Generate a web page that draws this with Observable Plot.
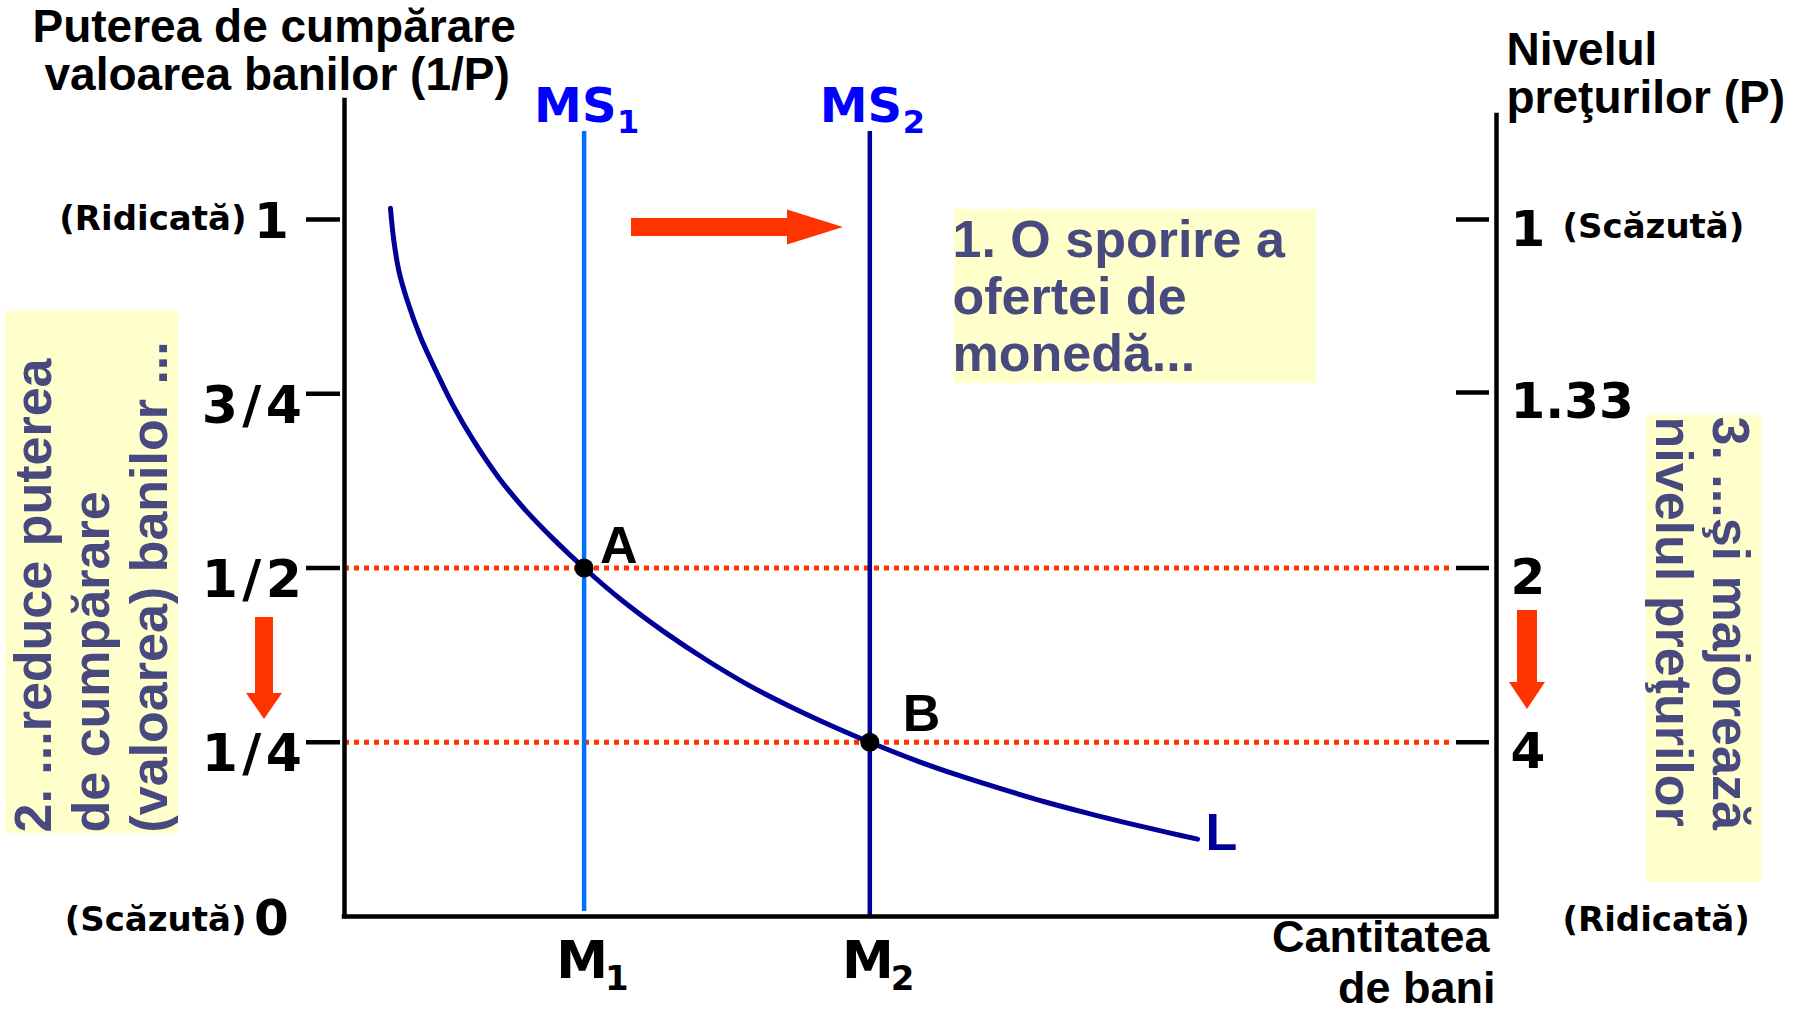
<!DOCTYPE html>
<html><head><meta charset="utf-8">
<script src="https://cdn.jsdelivr.net/npm/d3@7"></script>
<script src="https://cdn.jsdelivr.net/npm/@observablehq/plot@0.6"></script>
<style>html,body{margin:0;padding:0;background:#fff;} #chart svg{display:block}</style>
</head><body><div id="chart"></div>
<script>
// ---------- data ----------
// Money demand curve L: quantity of money (arbitrary units 0-100) vs value of money (1/P)
const moneyQuantity = [3.99, 4.28, 4.71, 5.44, 6.60, 8.05, 9.43, 11.19, 13.37, 15.71, 18.23, 20.8, 24.13, 27.78, 31.42, 35.07, 38.72, 42.36, 45.6, 49.74, 53.39, 57.03, 60.68, 64.32, 67.97, 71.61, 74.05];
const moneyValue    = [1.016, 0.970, 0.927, 0.884, 0.831, 0.779, 0.733, 0.683, 0.630, 0.583, 0.540, 0.5, 0.453, 0.408, 0.368, 0.332, 0.301, 0.273, 0.25, 0.223, 0.202, 0.183, 0.165, 0.149, 0.134, 0.120, 0.111];
const supplyLevels  = [20.8, 45.6];            // MS1 (M1), MS2 (M2)
const supplyNames   = ["1", "2"];
const pointNames    = ["A", "B"];
const pointValues   = [0.5, 0.25];
const valueTicks    = [0.25, 0.5, 0.75];
const valueTickLabels = ["1/4", "1/2", "3/4"];
const priceLevels   = [1, 1.33, 2, 4];

const curve = moneyQuantity.map((m, i) => ({m, v: moneyValue[i]}));
const points = pointNames.map((name, i) => ({name, m: supplyLevels[i], v: pointValues[i]}));

// ---------- layout ----------
const X0 = 344, X1 = 1496, Y0 = 916, Y1 = 219;
const px2x = p => (p - X0) / (X1 - X0) * 100;
const py2y = p => (Y0 - p) / (Y0 - Y1);

const RED = "#ff3300", NAVY = "#000099", TXT = "#47497f", YEL = "#ffffcc";
const DV = "DejaVu Sans", LS = "Liberation Sans";

function hArrow(x0, x1, x2, cy, s, h) {
  return [
    {x: px2x(x0), y1: py2y(cy - s), y2: py2y(cy + s)},
    {x: px2x(x1), y1: py2y(cy - s), y2: py2y(cy + s)},
    {x: px2x(x1), y1: py2y(cy - h), y2: py2y(cy + h)},
    {x: px2x(x2), y1: py2y(cy), y2: py2y(cy)}
  ];
}
function vArrow(cx, top, neck, tip, s, h) {
  return [
    {y: py2y(top), x1: px2x(cx - s), x2: px2x(cx + s)},
    {y: py2y(neck), x1: px2x(cx - s), x2: px2x(cx + s)},
    {y: py2y(neck), x1: px2x(cx - h), x2: px2x(cx + h)},
    {y: py2y(tip), x1: px2x(cx), x2: px2x(cx)}
  ];
}
function box(l, r, t, b) { return [{x1: px2x(l), x2: px2x(r), y1: py2y(b), y2: py2y(t)}]; }
function label(str, dx, dy, o = {}) {
  return Plot.text([str], {text: d => d, frameAnchor: "top-left", dx, dy, lineAnchor: "bottom",
    textAnchor: "start", fontWeight: "bold", fontFamily: LS, fontSize: 46, fill: "#000", ...o});
}

const chart = Plot.plot({
  width: 1807, height: 1012,
  marginTop: 0, marginRight: 0, marginBottom: 0, marginLeft: 0,
  x: {domain: [0, 100], range: [X0, X1], axis: null},
  y: {domain: [0, 1], range: [Y0, Y1], axis: null},
  style: {background: "#fff", overflow: "visible"},
  marks: [
    // yellow annotation boxes
    Plot.rect(box(954, 1316, 209, 383), {x1: "x1", x2: "x2", y1: "y1", y2: "y2", fill: YEL}),
    Plot.rect(box(5, 178, 311, 833), {x1: "x1", x2: "x2", y1: "y1", y2: "y2", fill: YEL}),
    Plot.rect(box(1646, 1761, 415, 882), {x1: "x1", x2: "x2", y1: "y1", y2: "y2", fill: YEL}),

    // dotted guides
    Plot.ruleY(points, {y: "v", x1: 0, x2: px2x(1452), stroke: RED, strokeWidth: 5, strokeDasharray: "5,5"}),

    // money supply lines
    Plot.ruleX([supplyLevels[0]], {x: d => d, y1: py2y(911), y2: py2y(131), stroke: "#0070ff", strokeWidth: 4.5}),
    Plot.ruleX([supplyLevels[1]], {x: d => d, y1: 0, y2: py2y(131), stroke: NAVY, strokeWidth: 4.5}),

    // money demand curve
    Plot.line(curve, {x: "m", y: "v", curve: "catmull-rom", stroke: NAVY, strokeWidth: 5, strokeLinecap: "round"}),

    // axes frame
    Plot.ruleX([0], {x: d => d, y1: 0, y2: py2y(100), stroke: "#000", strokeWidth: 4.5, strokeLinecap: "square"}),
    Plot.ruleX([100], {x: d => d, y1: 0, y2: py2y(115), stroke: "#000", strokeWidth: 4.5, strokeLinecap: "square"}),
    Plot.ruleY([0], {y: d => d, x1: 0, x2: 100, stroke: "#000", strokeWidth: 4.5, strokeLinecap: "square"}),
    // ticks
    Plot.ruleY([...valueTicks, 1], {y: d => d, x1: px2x(306), x2: px2x(340), stroke: "#000", strokeWidth: 4.5}),
    Plot.ruleY(priceLevels, {y: d => 1 / d, x1: px2x(1456), x2: px2x(1489), stroke: "#000", strokeWidth: 4.5}),

    // equilibrium points
    Plot.dot(points, {x: "m", y: "v", r: 9.5, fill: "#000"}),

    // arrows
    Plot.areaY(hArrow(631, 787, 843, 227, 9, 17.5), {x: "x", y1: "y1", y2: "y2", fill: RED}),
    Plot.areaX(vArrow(264, 617, 693, 719, 9, 18), {y: "y", x1: "x1", x2: "x2", fill: RED}),
    Plot.areaX(vArrow(1527, 610, 682, 709, 10, 18), {y: "y", x1: "x1", x2: "x2", fill: RED}),

    // left axis labels
    Plot.text(valueTicks, {x: 0, y: d => d, text: (d, i) => valueTickLabels[i], dx: -38, dy: 29, textAnchor: "end", lineAnchor: "bottom",
      fontFamily: DV, fontWeight: "bold", fontSize: 52, fill: "#000"}),
    Plot.text([1, 0], {x: 0, y: d => d, text: d => String(d), dx: -73, dy: 18, textAnchor: "middle", lineAnchor: "bottom",
      fontFamily: DV, fontWeight: "bold", fontSize: 50, fill: "#000"}),
    Plot.text([1], {x: 0, y: d => d, text: () => "(Ridicată)", dx: -98, dy: 10, textAnchor: "end", lineAnchor: "bottom",
      fontFamily: DV, fontWeight: "bold", fontSize: 34, fill: "#000"}),
    Plot.text([0], {x: 0, y: d => d, text: () => "(Scăzută)", dx: -98, dy: 14, textAnchor: "end", lineAnchor: "bottom",
      fontFamily: DV, fontWeight: "bold", fontSize: 34, fill: "#000"}),

    // right axis labels
    Plot.text(priceLevels, {x: 100, y: d => 1 / d, text: d => String(d), dx: 14, dy: 26, textAnchor: "start", lineAnchor: "bottom",
      fontFamily: DV, fontWeight: "bold", fontSize: 50, fill: "#000"}),
    Plot.text([1], {x: 100, y: d => d, text: () => "(Scăzută)", dx: 66, dy: 18, textAnchor: "start", lineAnchor: "bottom",
      fontFamily: DV, fontWeight: "bold", fontSize: 34, fill: "#000"}),
    Plot.text([0], {x: 100, y: d => d, text: () => "(Ridicată)", dx: 66, dy: 14, textAnchor: "start", lineAnchor: "bottom",
      fontFamily: DV, fontWeight: "bold", fontSize: 34, fill: "#000"}),

    // MS labels
    Plot.text(supplyLevels, {x: d => d, text: () => "MS", frameAnchor: "top", dx: -50, dy: 121, textAnchor: "start", lineAnchor: "bottom",
      fontFamily: DV, fontWeight: "bold", fontSize: 48, fill: "#0000ff"}),
    Plot.text(supplyLevels, {x: d => d, text: (d, i) => supplyNames[i], frameAnchor: "top", dx: 33, dy: 132, textAnchor: "start", lineAnchor: "bottom",
      fontFamily: DV, fontWeight: "bold", fontSize: 32, fill: "#0000ff"}),
    // M labels
    Plot.text(supplyLevels, {x: d => d, y: 0, text: () => "M", dx: -2, dy: 61, textAnchor: "middle", lineAnchor: "bottom",
      fontFamily: DV, fontWeight: "bold", fontSize: 52, fill: "#000"}),
    Plot.text(supplyLevels, {x: d => d, y: 0, text: (d, i) => supplyNames[i], dx: 21, dy: 73, textAnchor: "start", lineAnchor: "bottom",
      fontFamily: DV, fontWeight: "bold", fontSize: 34, fill: "#000"}),

    // point labels
    Plot.text([points[0]], {x: "m", y: "v", text: "name", dx: 16, dy: -5, textAnchor: "start", lineAnchor: "bottom",
      fontFamily: LS, fontWeight: "bold", fontSize: 52, fill: "#000"}),
    Plot.text([points[1]], {x: "m", y: "v", text: "name", dx: 33, dy: -11, textAnchor: "start", lineAnchor: "bottom",
      fontFamily: LS, fontWeight: "bold", fontSize: 52, fill: "#000"}),
    Plot.text([curve[curve.length - 1]], {x: "m", y: "v", text: () => "L", dx: 8, dy: 11, textAnchor: "start", lineAnchor: "bottom",
      fontFamily: LS, fontWeight: "bold", fontSize: 52, fill: NAVY}),

    // axis titles
    label("Puterea de cumpărare", 32, 41),
    label("valoarea banilor (1/P)", 44, 89),
    label("Nivelul", 1506, 64),
    label("preţurilor (P)", 1506, 112),
    label("Cantitatea", 1489, 951, {textAnchor: "end", fontSize: 45}),
    label("de bani", 1495, 1002, {textAnchor: "end", fontSize: 45}),

    // annotation texts
    label("1. O sporire a\nofertei de\nmonedă...", 952, 370, {fontSize: 52, lineHeight: 1.096, fill: TXT}),
    label("2. ...reduce puterea\nde cumpărare\n(valoarea) banilor ...", 166, 832, {fontSize: 52, lineHeight: 1.115, fill: TXT, rotate: -90}),
    label("3. ...şi majorează\nnivelul preţurilor", 1655, 416, {fontSize: 52, lineHeight: 1.115, fill: TXT, rotate: 90})
  ]
});
// wider fraction labels, like the reference's wide slash
d3.select(chart).selectAll("text")
  .filter(function () { return valueTickLabels.includes(this.textContent); })
  .attr("letter-spacing", 4.5);
document.getElementById("chart").appendChild(chart);
</script>
</body></html>
